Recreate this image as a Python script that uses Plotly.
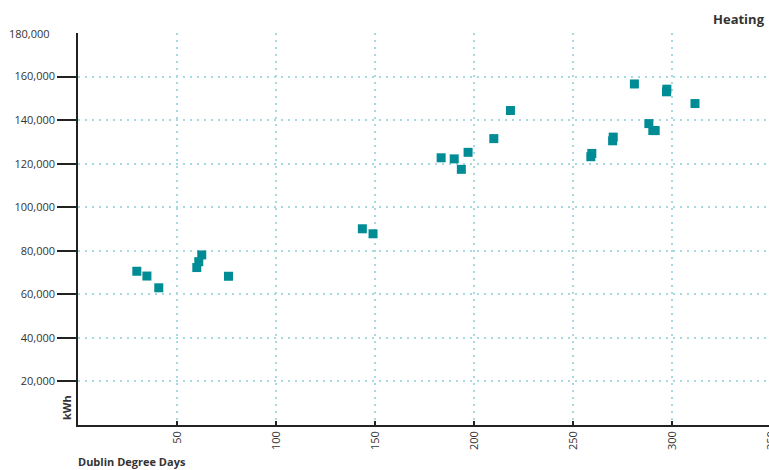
import plotly.graph_objects as go

degree_days = [29.7, 34.8, 40.8, 60.0, 61.0, 62.5, 76.0, 143.6, 149.0,
               183.4, 190.0, 193.6, 197.0, 210.0, 218.4,
               259.0, 259.5, 270.0, 270.3, 281.0, 288.3, 290.3, 291.5,
               297.2, 297.4, 311.6]
kwh = [70600, 68400, 63000, 72300, 75000, 78100, 68300, 90100, 87800,
       122700, 122200, 117400, 125200, 131500, 144400,
       123200, 124700, 130500, 132200, 156600, 138400, 135200, 135200,
       153000, 154200, 147600]

x_ticks = [50, 100, 150, 200, 250, 300, 350]
y_ticks = [20000, 40000, 60000, 80000, 100000, 120000, 140000, 160000]
y_top = 180000
y_tick_labels = [f"{v:,}" for v in y_ticks]

teal = "#008C95"
grid = "#a8d8e0"
gdash = "2px,5px"
font = "Open Sans"

# plot area in page pixels: x 78..773, y 33..425 (body margin removed)
L, T, R, B = 78, 33, 773, 425
W, H = 780, 470
X_MAX = 351


def px_x(px):
    return (px - L) / (R - L)


def px_y(py):
    return (B - py) / (B - T)


fig = go.Figure()
fig.add_trace(go.Scatter(
    x=degree_days, y=kwh, mode="markers",
    marker=dict(symbol="square", size=9, color=teal, line=dict(width=0)),
    showlegend=False, hoverinfo="x+y"))

fig.update_layout(
    width=W, height=H,
    margin=dict(l=L, r=W - R, t=T, b=H - B, autoexpand=False),
    paper_bgcolor="white", plot_bgcolor="white",
    font=dict(family=font, size=11, color="#333"),
    xaxis=dict(range=[0, X_MAX], tickvals=x_ticks, ticktext=[str(v) for v in x_ticks],
               tickangle=-90, ticks="inside", ticklen=4, tickwidth=1.5, tickcolor="#222",
               showline=True, linecolor="#222", linewidth=1.5,
               showgrid=True, gridcolor=grid, griddash=gdash, gridwidth=1.5,
               zeroline=False, tickfont=dict(family=font, size=11, color="#333")),
    yaxis=dict(range=[0, y_top], tickvals=y_ticks, ticktext=y_tick_labels,
               ticks="outside", ticklen=19, tickwidth=2, tickcolor="#222",
               showline=True, linecolor="#222", linewidth=1.5,
               showgrid=True, gridcolor=grid, griddash=gdash, gridwidth=1.5,
               zeroline=False, tickfont=dict(family=font, size=11, color="#333"),
               minor=dict(tickvals=[y_top], showgrid=True, gridcolor=grid,
                          griddash=gdash, gridwidth=1.5, ticks="")),
    annotations=[
        dict(text=f"{y_top:,}", x=0, y=y_top, xref="paper", yref="y",
             xanchor="right", yanchor="middle", xshift=-26, showarrow=False,
             font=dict(family=font, size=11, color="#333")),
        dict(text="<b>Dublin Degree Days</b>", x=px_x(76), y=px_y(461),
             xref="paper", yref="paper",
             showarrow=False, font=dict(family=font, size=11, color="#333"),
             xanchor="left", yanchor="middle"),
        dict(text="<b>kWh</b>", x=0, y=0, xref="paper", yref="paper", textangle=-90,
             xshift=-12, yshift=17, showarrow=False,
             font=dict(family=font, size=11, color="#333"),
             xanchor="center", yanchor="middle"),
        dict(text="<b>Heating</b>", x=px_x(767), y=px_y(19),
             xref="paper", yref="paper",
             showarrow=False, font=dict(family=font, size=13, color="#333"),
             xanchor="right", yanchor="middle"),
    ],
)

fig.write_html(
    "out.html",
    config={"displayModeBar": False},
    post_script="document.body.style.margin='0';document.body.style.overflow='hidden';"
                "document.documentElement.style.overflow='hidden';",
)
